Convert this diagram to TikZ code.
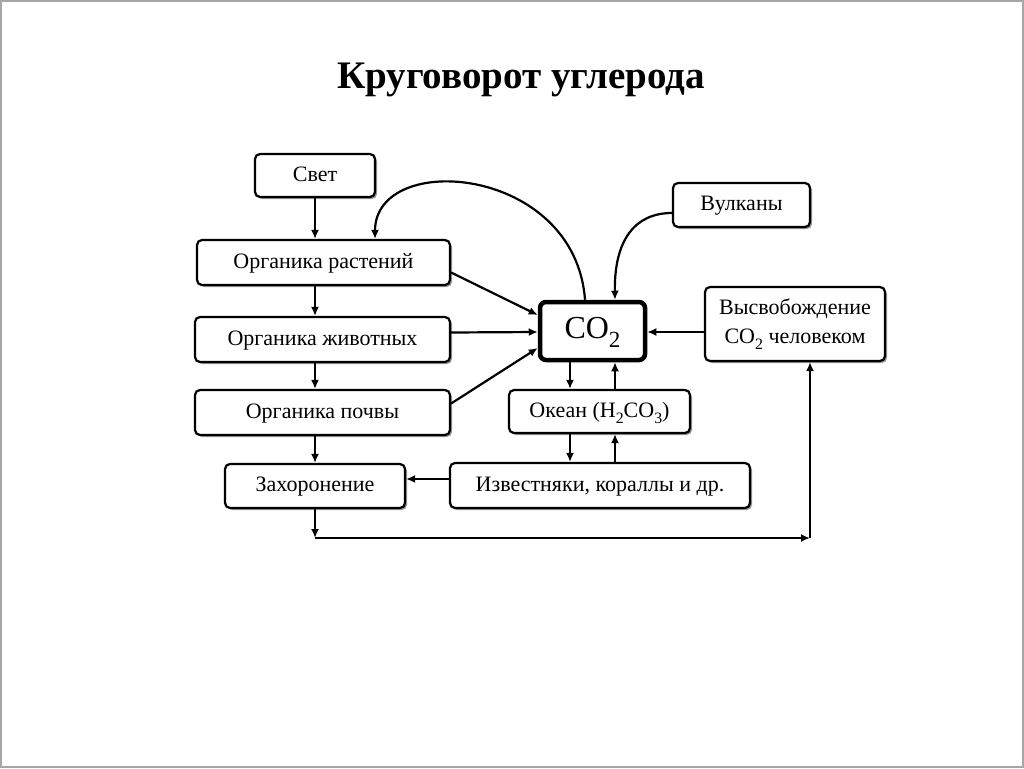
\documentclass[tikz,border=0pt]{standalone}
\usepackage{fontspec}
\usepackage{graphicx}
\setmainfont{Liberation Serif}
\usetikzlibrary{arrows.meta,shadows}
\newcommand\mysub[1]{\raisebox{-0.3em}{\scalebox{0.72}{#1}}}
\begin{document}
\begin{tikzpicture}[x=1pt,y=-1pt,
  box/.style={draw, line width=2.2pt, rounded corners=5pt, fill=white, inner sep=0pt,
    font=\fontsize{22}{26}\selectfont, text height=15.5pt, text depth=4pt,
    drop shadow={shadow xshift=2pt, shadow yshift=-2pt, fill=black!40, opacity=1}},
  co2box/.style={draw, line width=4.5pt, rounded corners=6pt, fill=white, inner sep=0pt,
    font=\fontsize{32}{36}\selectfont, text height=22pt, text depth=8pt},
  arr/.style={line width=2.2pt, -{Latex[length=9pt,width=8pt]}}]
\useasboundingbox (0,0) rectangle (1024,768);
\draw[gray!70, line width=2pt] (1,1) rectangle (1023,767);
\node[font=\fontsize{39}{44}\bfseries] (title) at (521,80) {Круговорот углерода};

\node[box, minimum width=120, minimum height=43] (svet) at (315,175.5) {Свет};
\node[box, minimum width=253, minimum height=45] (rast) at (323.5,262.5) {Органика растений};
\node[box, minimum width=255, minimum height=45] (zhiv) at (322.5,339.5) {Органика животных};
\node[box, minimum width=255, minimum height=45] (pochv) at (322.5,412.5) {Органика почвы};
\node[box, minimum width=180, minimum height=44] (zah) at (315,486) {Захоронение};
\node[box, minimum width=300, minimum height=45] (izv) at (600,485.5) {Известняки, кораллы и др.};
\node[box, minimum width=181, minimum height=43] (okean) at (599.5,411.5) {Океан (H\mysub{2}CO\mysub{3})};
\node[co2box, minimum width=105, minimum height=58] (co2) at (592.5,331) {CO\mysub{2}};
\node[box, minimum width=137, minimum height=44] (vulk) at (741.5,205) {Вулканы};
\node[box, minimum width=180, minimum height=74, align=center, text height=, text depth=] (vysv) at (795,324)
  {Высвобождение\\[3pt]CO\mysub{2} человеком};

\coordinate (xa) at (570,0);
\coordinate (xb) at (615,0);
\coordinate (c1) at (315,538);
\coordinate (c2) at (810,538);

\draw[arr] (svet.south) -- (svet.south |- rast.north);
\draw[arr] (svet.south |- rast.south) -- (svet.south |- zhiv.north);
\draw[arr] (svet.south |- zhiv.south) -- (svet.south |- pochv.north);
\draw[arr] (svet.south |- pochv.south) -- (svet.south |- zah.north);

\draw[arr] ([yshift=-10pt]rast.east) -- ([yshift=16pt]co2.west);
\draw[arr] ([yshift=7pt]zhiv.east) -- (co2.west |- 0,332);
\draw[arr] ([yshift=9pt]pochv.east) -- ([yshift=-17pt]co2.west);

\draw[arr] (co2.north -| 585,0) .. controls (575,165) and (375,150) .. (rast.north -| 375,0);
\draw[arr] (vulk.west |- 0,213) .. controls (635,213) and (614,240) .. (co2.north -| xb);
\draw[arr] (vysv.west |- 0,332) -- (co2.east |- 0,332);

\draw[arr] (xa |- co2.south) -- (xa |- okean.north);
\draw[arr] (xb |- okean.north) -- (xb |- co2.south);
\draw[arr] (xa |- okean.south) -- (xa |- izv.north);
\draw[arr] (xb |- izv.north) -- (xb |- okean.south);

\draw[arr] (izv.west |- 0,479) -- (zah.east |- 0,479);
\draw[arr] (zah.south) -- (c1);
\draw[arr] (c1) -- (c2);
\draw[arr] (c2) -- (c2 |- vysv.south);
\end{tikzpicture}
\end{document}
